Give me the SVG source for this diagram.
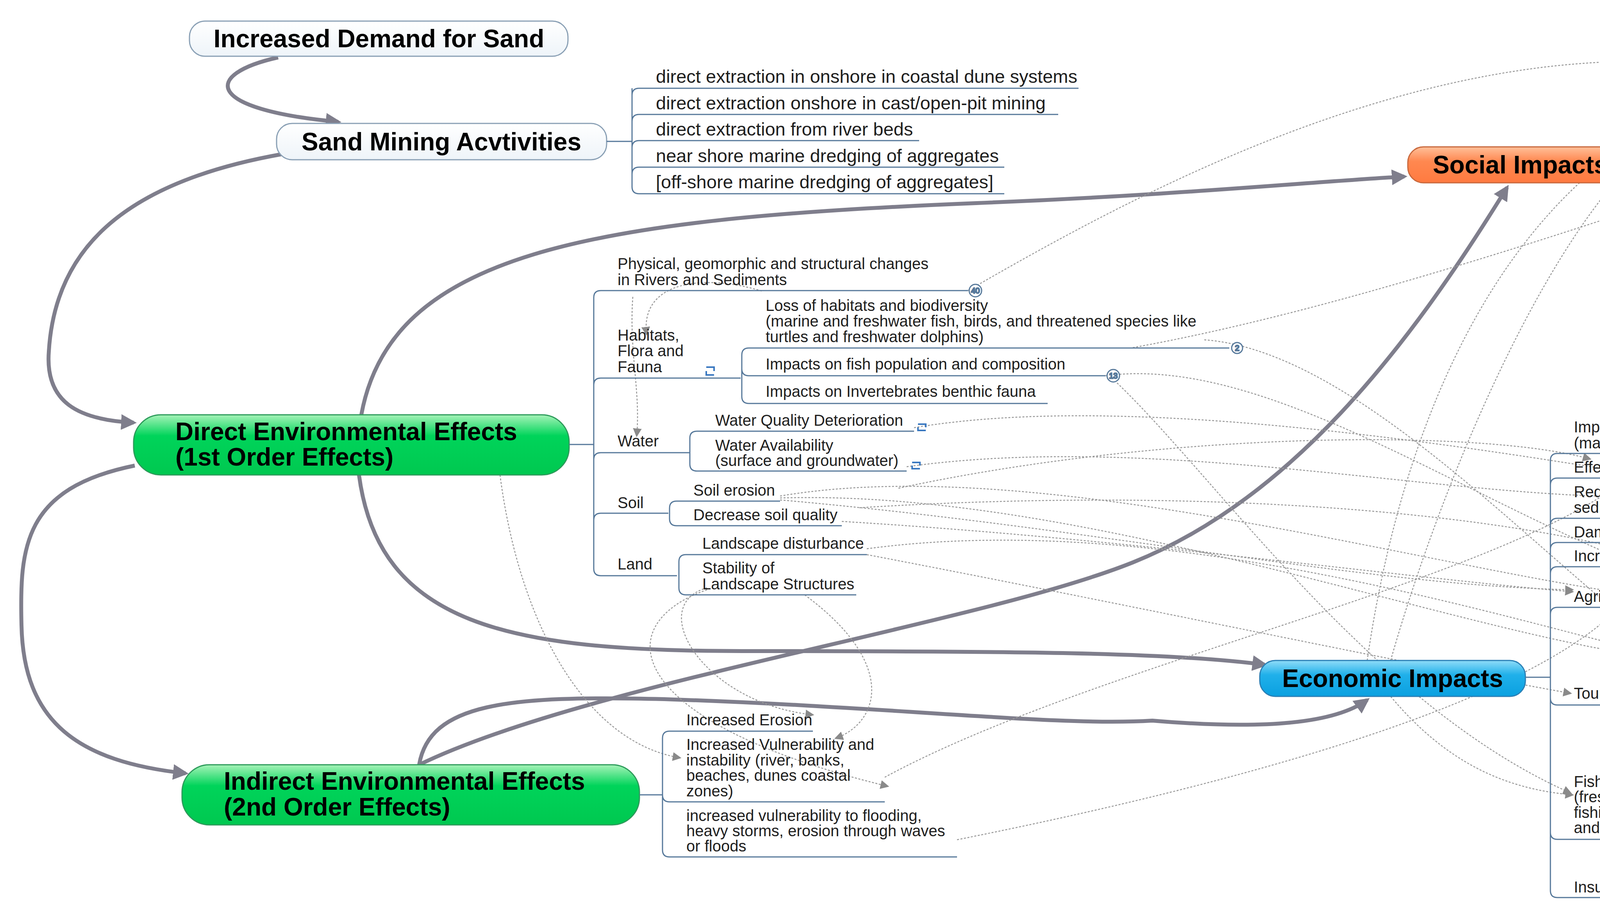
<svg xmlns="http://www.w3.org/2000/svg" width="5765" height="2335" viewBox="0 0 5765 2335">
<defs>
<linearGradient id="gG" x1="0" y1="0" x2="0" y2="1"><stop offset="0" stop-color="#a6f3b8"/><stop offset="0.35" stop-color="#00d45a"/><stop offset="1" stop-color="#00c850"/></linearGradient>
<linearGradient id="gO" x1="0" y1="0" x2="0" y2="1"><stop offset="0" stop-color="#ffc09a"/><stop offset="0.4" stop-color="#ff8850"/><stop offset="1" stop-color="#ff7a40"/></linearGradient>
<linearGradient id="gB" x1="0" y1="0" x2="0" y2="1"><stop offset="0" stop-color="#8fdcf8"/><stop offset="0.4" stop-color="#20b0ea"/><stop offset="1" stop-color="#0aa0e0"/></linearGradient>
<linearGradient id="gW" x1="0" y1="0" x2="0" y2="1"><stop offset="0" stop-color="#ffffff"/><stop offset="1" stop-color="#eef4f9"/></linearGradient>
<marker id="aT" viewBox="0 0 10 10" refX="8" refY="5" markerWidth="4" markerHeight="4" orient="auto" markerUnits="strokeWidth"><path d="M0,0 L10,5 L0,10 z" fill="#7f7e8c"/></marker>
<marker id="aD" viewBox="0 0 10 10" refX="8" refY="5" markerWidth="9" markerHeight="9" orient="auto" markerUnits="strokeWidth"><path d="M0,0 L10,5 L0,10 z" fill="#8a8a8a"/></marker>
</defs>
<style>
text{font-family:"Liberation Sans",Arial,sans-serif;fill:#1e1e1e}
.m{font-size:64px;font-weight:bold;fill:#000}
.s{font-size:47px}
.t{font-size:40px}
.i{font-style:italic}
.br{fill:none;stroke:#56789a;stroke-width:3}
.th{fill:none;stroke:#7f7e8c;stroke-width:10;marker-end:url(#aT)}
.dt{fill:none;stroke:#999;stroke-width:2.5;stroke-dasharray:5 4;marker-end:url(#aD)}
.bd{fill:#fff;stroke:#56789a;stroke-width:3}
.bd text{font-size:20px}
</style>

<g id="connectors">
<path class="th" d="M712,147 C520,190 520,280 866,312"/>
<path class="th" d="M720,395 C300,470 140,650 125,900 C115,1030 200,1075 342,1082"/>
<path class="th" d="M345,1192 C60,1250 50,1400 55,1600 C60,1850 200,1950 475,1980"/>
<path class="th" d="M925,1062 C1000,650 1500,560 2500,520 C3000,500 3300,470 3595,452"/>
<path class="th" d="M919,1216 C970,1600 1300,1667 1900,1667 C2600,1667 3000,1670 3238,1702"/>
<path class="th" d="M1073,1958 C1500,1750 2500,1600 2900,1440 C3300,1280 3600,900 3858,480"/>
<path class="th" d="M1073,1958 C1100,1800 1300,1780 1700,1790 C2300,1810 2700,1860 2950,1845 C3250,1870 3420,1850 3500,1792"/>

<path class="dt" d="M2478,744 C2900,500 3600,120 4295,160"/>
<path class="dt" d="M3560,1691 C3700,1200 4000,500 4295,320"/>
<path class="dt" d="M3500,1691 C3600,1000 3900,400 4440,238"/>
<path class="dt" d="M2340,1095 C2900,1000 3800,1150 4290,1230"/>
<path class="dt" d="M2321,1195 C3000,1100 3800,1300 4290,1268"/>
<path class="dt" d="M1997,1270 C2700,1150 3800,1500 4320,1537"/>
<path class="dt" d="M1997,1275 C2800,1250 3800,1650 4300,1690"/>
<path class="dt" d="M2219,1405 C3000,1300 3900,1600 4300,1690"/>
<path class="dt" d="M2830,962 C3300,900 3900,1400 4460,1537"/>
<path class="dt" d="M3083,870 C3500,900 4000,1500 4300,1685"/>
<path class="dt" d="M2900,890 C3400,800 4000,600 4470,440"/>
<path class="dt" d="M1997,1280 C2800,1350 3500,1500 4025,1510"/>
<path class="dt" d="M2155,1335 C2900,1380 3600,1480 4025,1515"/>
<path class="dt" d="M2219,1420 C2900,1550 3600,1700 4020,1775"/>
<path class="dt" d="M5081,236 C5500,300 5550,900 5200,1100 C5000,1180 4700,1200 4475,1210"/>
<path class="dt" d="M4520,2040 C5000,1950 5600,1500 5550,1000 C5500,700 5000,600 4700,643"/>
<path class="dt" d="M4820,1750 C5300,1650 5600,1300 5520,700 C5450,400 5300,260 5090,238"/>
<path class="dt" d="M3560,1783 C3700,1950 3850,2020 4025,2035"/>
<path class="dt" d="M2840,962 C3100,1200 3500,1800 4020,2030"/>
<path class="dt" d="M2450,2150 C3200,2000 3900,1800 4140,1560"/>
<path class="dt" d="M2265,1990 C2800,1700 3800,1500 4160,1230"/>
<path class="dt" d="M1810,1510 C1550,1600 1600,1850 2272,2013"/>
<path class="dt" d="M1810,1505 C1650,1550 1800,1800 2080,1830"/>
<path class="dt" d="M2060,1523 C2300,1700 2250,1850 2140,1890"/>
<path class="dt" d="M1950,745 C1800,700 1640,720 1655,855"/>
<path class="dt" d="M1620,760 C1610,900 1640,1000 1630,1115"/>
<path class="dt" d="M1280,1216 C1330,1600 1500,1900 1740,1940"/>
<path class="dt" d="M2300,1250 C3000,1100 3800,1100 4070,1175"/>
<path class="dt" d="M2200,1300 C3000,1250 3700,1300 4130,1400"/>
</g>

<g id="demand">
<rect x="485" y="54" width="969" height="90" rx="40" fill="url(#gW)" stroke="#8aa0b5" stroke-width="3"/>
<text class="m" x="970" y="121" text-anchor="middle">Increased Demand for Sand</text>
</g>

<g id="mining">
<rect x="708" y="316" width="845" height="93" rx="40" fill="url(#gW)" stroke="#8aa0b5" stroke-width="3"/>
<text class="m" x="1130" y="385" text-anchor="middle">Sand Mining Acvtivities</text>
<path class="br" d="M1553,362 H1618 M1618,226 V480 M1618,244 Q1618,226 1636,226 H2761 M1618,311 Q1618,293 1636,293 H2709 M1618,378 Q1618,360 1636,360 H2353 M1618,446 Q1618,428 1636,428 H2571 M1618,478 Q1618,496 1636,496 H2571"/>
<text class="s" x="1679" y="212">direct extraction in onshore in coastal dune systems</text>
<text class="s" x="1679" y="280">direct extraction onshore in cast/open-pit mining</text>
<text class="s" x="1679" y="347">direct extraction from river beds</text>
<text class="s" x="1679" y="415">near shore marine dredging of aggregates</text>
<text class="s" x="1679" y="482">[off-shore marine dredging of aggregates]</text>
</g>

<g id="direct">
<rect x="342" y="1062" width="1115" height="154" rx="70" fill="url(#gG)" stroke="#2c9a5a" stroke-width="3"/>
<text class="m" x="449" y="1127">Direct Environmental Effects</text>
<text class="m" x="449" y="1192">(1st Order Effects)</text>
<path class="br" d="M1457,1138 H1520 M1520,762 V1456 M1520,762 Q1520,744 1538,744 H2478 M1520,986 Q1520,968 1538,968 H1896 M1520,1177 Q1520,1159 1538,1159 H1766 M1520,1332 Q1520,1314 1538,1314 H1711 M1520,1456 Q1520,1474 1538,1474 H1733"/>
<text class="t" x="1581" y="689">Physical, geomorphic and structural changes</text>
<text class="t" x="1581" y="730">in Rivers and Sediments</text>
<g class="bd"><circle cx="2497" cy="744" r="16"/><text x="2497" y="751" text-anchor="middle">40</text></g>
<text class="t" x="1581" y="872">Habitats,</text>
<text class="t" x="1581" y="912">Flora and</text>
<text class="t" x="1581" y="953">Fauna</text>
<path d="M1808,940 h20 v10 M1828,960 h-20 v-10" fill="none" stroke="#3a78c0" stroke-width="4"/>
<path class="br" d="M1899,909 V1015 M1899,909 Q1899,891 1917,891 H3147 M1899,944 Q1899,962 1917,962 H2830 M1899,1015 Q1899,1033 1917,1033 H2682"/>
<text class="t" x="1960" y="796">Loss of habitats and biodiversity</text>
<text class="t" x="1960" y="836">(marine and freshwater fish, birds, and threatened species like</text>
<text class="t" x="1960" y="876">turtles and freshwater dolphins)</text>
<g class="bd"><circle cx="3167" cy="891" r="14"/><text x="3167" y="898" text-anchor="middle">2</text></g>
<text class="t" x="1960" y="946">Impacts on fish population and composition</text>
<g class="bd"><circle cx="2850" cy="962" r="16"/><text x="2850" y="969" text-anchor="middle">13</text></g>
<text class="t" x="1960" y="1016">Impacts on Invertebrates benthic fauna</text>
<text class="t" x="1581" y="1143">Water</text>
<path class="br" d="M1766,1122 V1188 M1766,1122 Q1766,1104 1784,1104 H2340 M1766,1188 Q1766,1206 1784,1206 H2321"/>
<text class="t" x="1831" y="1090">Water Quality Deterioration</text>
<path d="M2350,1086 h20 v8 M2370,1102 h-20 v-8" fill="none" stroke="#3a78c0" stroke-width="4"/>
<text class="t" x="1831" y="1154">Water Availability</text>
<text class="t" x="1831" y="1193">(surface and groundwater)</text>
<path d="M2335,1184 h20 v8 M2355,1200 h-20 v-8" fill="none" stroke="#3a78c0" stroke-width="4"/>
<text class="t" x="1581" y="1301">Soil</text>
<path class="br" d="M1714,1301 V1328 M1714,1301 Q1714,1283 1732,1283 H1997 M1714,1328 Q1714,1346 1732,1346 H2155"/>
<text class="t" x="1775" y="1269">Soil erosion</text>
<text class="t" x="1775" y="1332">Decrease soil quality</text>
<text class="t" x="1581" y="1458">Land</text>
<path class="br" d="M1738,1438 V1505 M1738,1438 Q1738,1420 1756,1420 H2219 M1738,1505 Q1738,1523 1756,1523 H2192"/>
<text class="t" x="1798" y="1405">Landscape disturbance</text>
<text class="t" x="1798" y="1468">Stability of</text>
<text class="t" x="1798" y="1509">Landscape Structures</text>
</g>

<g id="indirect">
<rect x="466" y="1958" width="1171" height="154" rx="70" fill="url(#gG)" stroke="#2c9a5a" stroke-width="3"/>
<text class="m" x="573" y="2022">Indirect Environmental Effects</text>
<text class="m" x="573" y="2088">(2nd Order Effects)</text>
<path class="br" d="M1637,2035 H1696 M1696,1890 V2176 M1696,1890 Q1696,1872 1714,1872 H2081 M1696,2035 Q1696,2053 1714,2053 H2265 M1696,2176 Q1696,2194 1714,2194 H2450"/>
<text class="t" x="1757" y="1857">Increased Erosion</text>
<text class="t" x="1757" y="1920">Increased Vulnerability and</text>
<text class="t" x="1757" y="1960">instability (river, banks,</text>
<text class="t" x="1757" y="1999">beaches, dunes coastal</text>
<text class="t" x="1757" y="2039">zones)</text>
<text class="t" x="1757" y="2102">increased vulnerability to flooding,</text>
<text class="t" x="1757" y="2141">heavy storms, erosion through waves</text>
<text class="t" x="1757" y="2180">or floods</text>
</g>

<g id="social">
<rect x="3604" y="376" width="577" height="92" rx="40" fill="url(#gO)" stroke="#c8683c" stroke-width="3"/>
<text class="m" x="3892" y="444" text-anchor="middle">Social Impacts</text>
<path class="br" d="M4181,422 H4244 M4244,89 V749 M4244,89 Q4244,71 4262,71 H4659 M4244,190 Q4244,172 4262,172 H4933 M4244,254 Q4244,236 4262,236 H5081 M4244,356 Q4244,338 4262,338 H4798 M4244,458 Q4244,440 4262,440 H5203 M4244,524 Q4244,542 4262,542 H4787 M4244,625 Q4244,643 4262,643 H5258 M4244,688 Q4244,706 4262,706 H4777 M4244,749 Q4244,767 4262,767 H5033"/>
<text class="t" x="4304" y="57">Human health risks</text>
<text class="t" x="4304" y="119">Safety risks for Workers</text>
<text class="t" x="4304" y="158">(drowning, landslides, subsidence)</text>
<text class="t" x="4304" y="222">Damage to properties (houses livelihoods)</text>
<text class="t" x="4304" y="283">Damage to infrastructure</text>
<text class="t" x="4304" y="323">(bridges, water supply)</text>
<text class="t" x="4304" y="386">Impacts in livelihoods, homes, buildings and</text>
<text class="t" x="4304" y="426">infrastructure by extrem events and undermining</text>
<text class="t" x="4304" y="487">Reduced availability of</text>
<text class="t" x="4304" y="528">(ground-) water reservoirs</text>
<text class="t i" x="4304" y="591">income instability, sources of income (in agriculture,</text>
<text class="t i" x="4304" y="630">fishery, tourism etc.), possibility to get a job</text>
<text class="t" x="4304" y="692">Aestethics, scenic beauty</text>
<text class="t" x="4304" y="755">Effects on local and indigenous peoples</text>
</g>

<g id="economic">
<rect x="3225" y="1691" width="680" height="92" rx="40" fill="url(#gB)" stroke="#2a7fb5" stroke-width="3"/>
<text class="m" x="3565" y="1759" text-anchor="middle">Economic Impacts</text>
<path class="br" d="M3905,1734 H3969 M3969,1179 V2280 M3969,1179 Q3969,1161 3987,1161 H5093 M3969,1242 Q3969,1224 3987,1224 H4471 M3969,1345 Q3969,1327 3987,1327 H5020 M3969,1407 Q3969,1389 3987,1389 H4828 M3969,1469 Q3969,1451 3987,1451 H4599 M3969,1573 Q3969,1555 3987,1555 H4882 M3969,1787 Q3969,1805 3987,1805 H4243 M3969,2131 Q3969,2149 3987,2149 H4553 M3969,2280 Q3969,2298 3987,2298 H5577"/>
<text class="t" x="4029" y="1107">Impact on national income, tax revenues, public budgets</text>
<text class="t" x="4029" y="1148">(macro-level)</text>
<text class="t" x="4029" y="1210">Effects on Infrastructure</text>
<text class="t" x="4029" y="1273">Reduced sand deposits in river deltas due to reduced</text>
<text class="t" x="4029" y="1313">sedimant transport</text>
<path d="M5040,1303 h20 v8 M5060,1319 h-20 v-8" fill="none" stroke="#3a78c0" stroke-width="4"/>
<text class="t" x="4029" y="1376">Damage of the public and private property.</text>
<text class="t" x="4029" y="1437">Increased water treatment cost</text>
<text class="t" x="4029" y="1541">Agriculture</text>
<text class="t" x="4362" y="1500">Reduction of farmlands and</text>
<text class="t" x="4362" y="1541">grazing lands</text>
<text class="t" x="4029" y="1789">Tourism</text>
<path class="br" d="M4243,1657 V1950 M4243,1657 Q4243,1639 4261,1639 H4654 M4243,1719 Q4243,1701 4261,1701 H4563 M4243,1782 Q4243,1764 4261,1764 H4815 M4243,1806 Q4243,1824 4261,1824 H4745 M4243,1950 Q4243,1968 4261,1968 H4815"/>
<text class="t" x="4301" y="1624">loss of key species</text>
<text class="t" x="4301" y="1687">beach erosion</text>
<text class="t i" x="4301" y="1750">impacts of declining tourism</text>
<text class="t" x="4301" y="1811">Loss of bathing beaches</text>
<text class="t" x="4301" y="1874"> Destruction of picturesque</text>
<text class="t" x="4301" y="1913">beaches causes tourism to</text>
<text class="t" x="4301" y="1953">dissipate</text>
<text class="t" x="4029" y="2015">Fishing</text>
<text class="t" x="4029" y="2054">(freshwater and marine</text>
<text class="t" x="4029" y="2094">fishing - both traditional</text>
<text class="t" x="4029" y="2133">and commercial)</text>
<g class="bd"><circle cx="4563" cy="2149" r="14"/><text x="4563" y="2156" text-anchor="middle">2</text></g>
<text class="t" x="4029" y="2285">Insurance Sector</text>
<text class="t" x="4462" y="2204">exacerbation of the impact of extreme events such as floods,</text>
<text class="t" x="4462" y="2243">droughts and storm surges which can affect houses and</text>
<text class="t" x="4462" y="2283">infrastructure</text>
</g>
</svg>
